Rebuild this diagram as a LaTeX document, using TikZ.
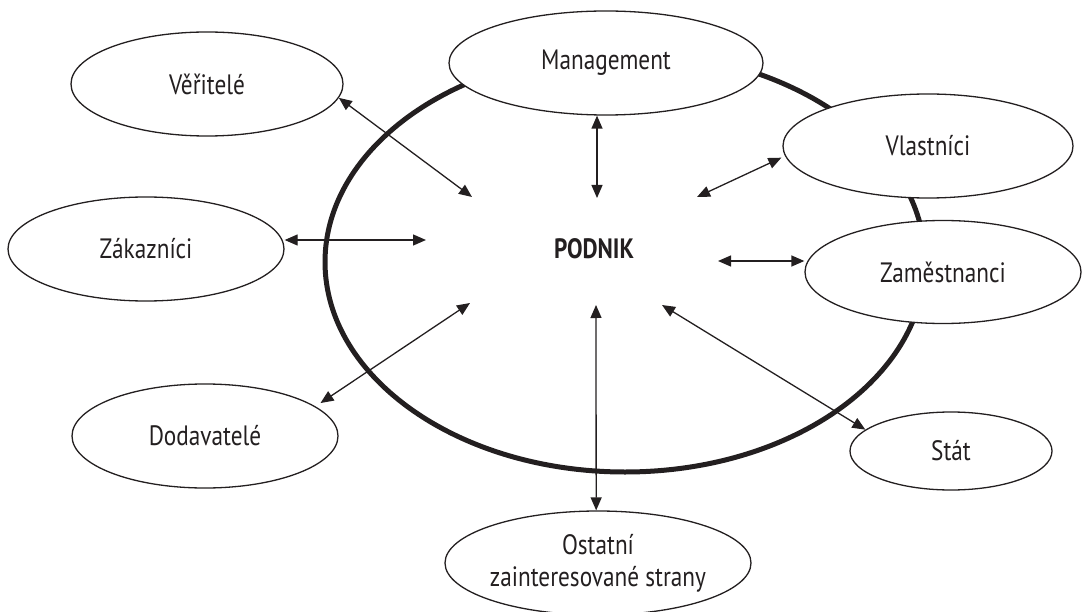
\documentclass[tikz,border=0pt]{standalone}
\usepackage{fontspec}
\setmainfont{PT Sans}[FakeStretch=0.83]
\usetikzlibrary{shapes.geometric,arrows.meta}
\definecolor{ink}{RGB}{35,31,32}
\begin{document}
\begin{tikzpicture}[x=1pt,y=-1pt,
  party/.style={ellipse,draw=ink,line width=1.3pt,fill=white,inner sep=0pt,
    text=ink,font=\fontsize{28}{32}\selectfont,align=center},
  arr/.style={draw=ink,line width=1.3pt,
    {Triangle[length=13pt,width=11pt]}-{Triangle[length=13pt,width=11pt]}}]
\useasboundingbox (0,0) rectangle (1083,612);
% firm boundary
\draw[ink,line width=5pt] (625,262) ellipse [x radius=300, y radius=210];
% stakeholders
\node[party,minimum width=314pt,minimum height=104pt] (mgmt) at (606,63) {Management};
\node[party,minimum width=272pt,minimum height=104pt] (ver) at (207,84) {Věřitelé};
\node[party,minimum width=290pt,minimum height=104pt] (vla) at (928,146) {Vlastníci};
\node[party,minimum width=276pt,minimum height=104pt] (zak) at (146,249) {Zákazníci};
\node[party,minimum width=276pt,minimum height=103pt] (zam) at (943,272) {Zaměstnanci};
\node[party,minimum width=266pt,minimum height=104pt] (dod) at (205,436) {Dodavatelé};
\node[party,minimum width=202pt,minimum height=78pt] (sta) at (951,451) {Stát};
\node[party,minimum width=306pt,minimum height=104pt] (ost) at (598,563) {Ostatní\\zainteresované strany};
% centre
\node[text=ink,font=\fontsize{28}{32}\selectfont\bfseries] (podnik) at (594,249) {PODNIK};
% inner arrow ends
\coordinate (pv) at (472,197);
\coordinate (pm) at (597,198);
\coordinate (pvl) at (697,197);
\coordinate (pz) at (426,240);
\coordinate (pzm) at (718,261);
\coordinate (pd) at (470,303);
\coordinate (po) at (596,305);
\coordinate (ps) at (662,305);
% connectors
\draw[arr] (ver.-6) -- (pv);
\draw[arr] (mgmt.south -| pm) -- (pm);
\draw[arr,shorten <=4pt] (vla.184) -- (pvl);
\draw[arr] (zak.east |- pz) -- (pz);
\draw[arr] (pzm) -- (pzm -| zam.west);
\draw[arr,shorten >=6pt] (pd) -- (dod.15);
\draw[arr] (po) -- (ost.92);
\draw[arr] (ps) -- (sta.166);
\end{tikzpicture}
\end{document}
